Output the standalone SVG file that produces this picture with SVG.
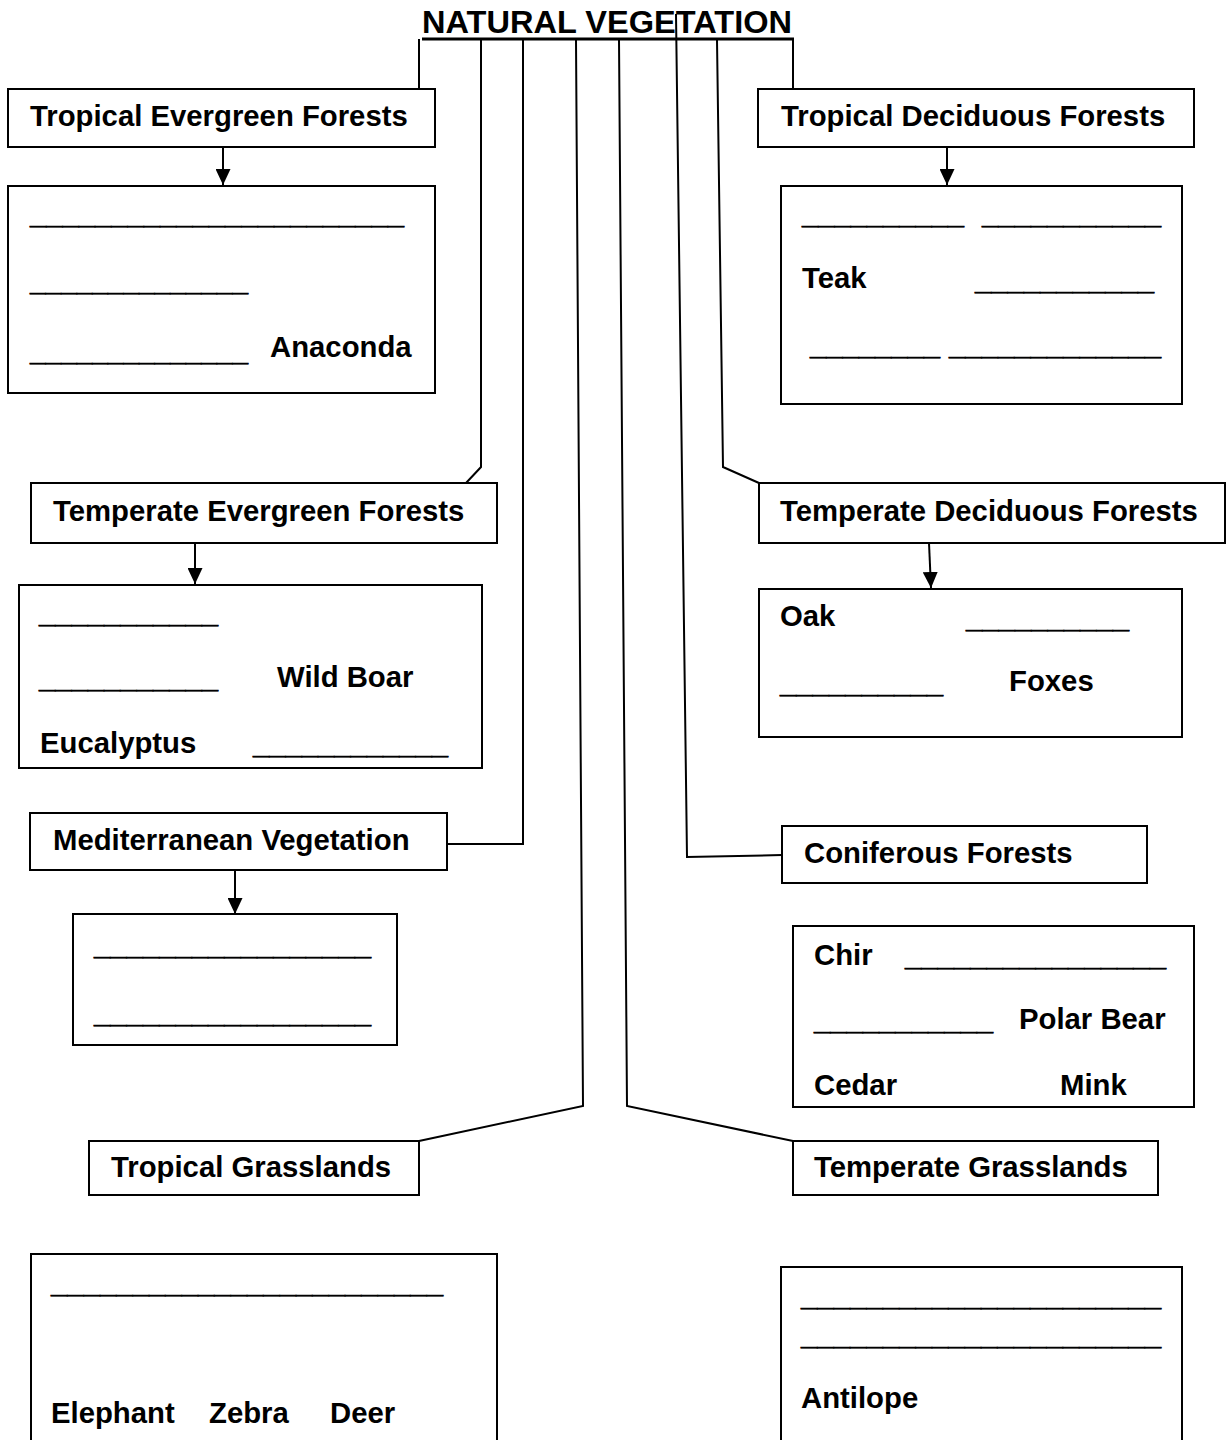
<svg xmlns="http://www.w3.org/2000/svg" width="1226" height="1440" viewBox="0 0 1226 1440">
<style>
  text { font-family: "Liberation Sans", Arial, sans-serif; font-weight: bold; font-size: 29.3px; fill: #000; }
  .title { font-size: 32px; }
  .blank { stroke: #000; stroke-width: 0.7; }
  .box { fill: #fff; stroke: #000; stroke-width: 2; }
  .conn { fill: none; stroke: #000; stroke-width: 2; }
  .arrow { fill: none; stroke: #000; stroke-width: 2; marker-end: url(#ah); }
</style>
<defs>
  <marker id="ah" markerUnits="userSpaceOnUse" markerWidth="16" markerHeight="15" refX="16" refY="7.5" orient="auto" viewBox="0 0 16 15">
    <path d="M0,0 L16,7.5 L0,15 z" fill="#000"/>
  </marker>
</defs>
<rect width="1226" height="1440" fill="#fff"/>

<g id="connectors">
  <path class="conn" d="M419,39 L419,89"/>
  <path class="conn" d="M481,40 L481,467 L466,483"/>
  <path class="conn" d="M523,40 L523,844 L447,844"/>
  <path class="conn" d="M576,40 L583,1106 L419,1141"/>
  <path class="conn" d="M619,40 L627,1106 L793,1141"/>
  <path class="conn" d="M676,14 L687,857 L782,855"/>
  <path class="conn" d="M717,40 L723,467 L759,483"/>
  <path class="conn" d="M793,39 L793,89"/>
  <path class="arrow" d="M223,147 L223,185"/>
  <path class="arrow" d="M947,147 L947,185"/>
  <path class="arrow" d="M195,543 L195,584"/>
  <path class="arrow" d="M929,543 L931,588"/>
  <path class="arrow" d="M235,871 L235,914"/>
</g>

<g id="title">
  <text class="title" x="422" y="33" textLength="370" lengthAdjust="spacingAndGlyphs">NATURAL VEGETATION</text>
  <line x1="422" y1="39" x2="794" y2="39" stroke="#000" stroke-width="3"/>
</g>

<g id="tropical-evergreen">
  <rect class="box" x="8" y="89" width="427" height="58"/>
  <text x="30" y="126">Tropical Evergreen Forests</text>
</g>
<g id="tropical-evergreen-content">
  <rect class="box" x="8" y="186" width="427" height="207"/>
  <text class="blank" x="30" y="224" textLength="374" lengthAdjust="spacingAndGlyphs">_______________________</text>
  <text class="blank" x="30" y="291" textLength="218" lengthAdjust="spacingAndGlyphs">______________</text>
  <text class="blank" x="30" y="361" textLength="218" lengthAdjust="spacingAndGlyphs">______________</text>
  <text x="270" y="357">Anaconda</text>
</g>

<g id="tropical-deciduous">
  <rect class="box" x="758" y="89" width="436" height="58"/>
  <text x="781" y="126">Tropical Deciduous Forests</text>
</g>
<g id="tropical-deciduous-content">
  <rect class="box" x="781" y="186" width="401" height="218"/>
  <text class="blank" x="802" y="224" textLength="162" lengthAdjust="spacingAndGlyphs">__________</text>
  <text class="blank" x="982" y="224" textLength="179" lengthAdjust="spacingAndGlyphs">___________</text>
  <text x="802" y="288">Teak</text>
  <text class="blank" x="975" y="290" textLength="179" lengthAdjust="spacingAndGlyphs">___________</text>
  <text class="blank" x="810" y="355" textLength="130" lengthAdjust="spacingAndGlyphs">________</text>
  <text class="blank" x="949" y="355" textLength="212" lengthAdjust="spacingAndGlyphs">_____________</text>
</g>

<g id="temperate-evergreen">
  <rect class="box" x="31" y="483" width="466" height="60"/>
  <text x="53" y="521">Temperate Evergreen Forests</text>
</g>
<g id="temperate-evergreen-content">
  <rect class="box" x="19" y="585" width="463" height="183"/>
  <text class="blank" x="39" y="623" textLength="179" lengthAdjust="spacingAndGlyphs">___________</text>
  <text class="blank" x="39" y="688" textLength="179" lengthAdjust="spacingAndGlyphs">___________</text>
  <text x="277" y="687">Wild Boar</text>
  <text x="40" y="753">Eucalyptus</text>
  <text class="blank" x="253" y="754" textLength="195" lengthAdjust="spacingAndGlyphs">____________</text>
</g>

<g id="temperate-deciduous">
  <rect class="box" x="759" y="483" width="466" height="60"/>
  <text x="780" y="521">Temperate Deciduous Forests</text>
</g>
<g id="temperate-deciduous-content">
  <rect class="box" x="759" y="589" width="423" height="148"/>
  <text x="780" y="626">Oak</text>
  <text class="blank" x="966" y="628" textLength="163" lengthAdjust="spacingAndGlyphs">__________</text>
  <text class="blank" x="780" y="693" textLength="163" lengthAdjust="spacingAndGlyphs">__________</text>
  <text x="1009" y="691">Foxes</text>
</g>

<g id="mediterranean">
  <rect class="box" x="30" y="813" width="417" height="57"/>
  <text x="53" y="850">Mediterranean Vegetation</text>
</g>
<g id="mediterranean-content">
  <rect class="box" x="73" y="914" width="324" height="131"/>
  <text class="blank" x="94" y="955" textLength="277" lengthAdjust="spacingAndGlyphs">_________________</text>
  <text class="blank" x="94" y="1023" textLength="277" lengthAdjust="spacingAndGlyphs">_________________</text>
</g>

<g id="coniferous">
  <rect class="box" x="782" y="826" width="365" height="57"/>
  <text x="804" y="863">Coniferous Forests</text>
</g>
<g id="coniferous-content">
  <rect class="box" x="793" y="926" width="401" height="181"/>
  <text x="814" y="965">Chir</text>
  <text class="blank" x="905" y="966" textLength="261" lengthAdjust="spacingAndGlyphs">________________</text>
  <text class="blank" x="814" y="1030" textLength="179" lengthAdjust="spacingAndGlyphs">___________</text>
  <text x="1019" y="1029">Polar Bear</text>
  <text x="814" y="1095">Cedar</text>
  <text x="1060" y="1095">Mink</text>
</g>

<g id="tropical-grasslands">
  <rect class="box" x="89" y="1141" width="330" height="54"/>
  <text x="111" y="1177">Tropical Grasslands</text>
</g>
<g id="tropical-grasslands-content">
  <rect class="box" x="31" y="1254" width="466" height="200"/>
  <text class="blank" x="51" y="1293" textLength="392" lengthAdjust="spacingAndGlyphs">________________________</text>
  <text x="51" y="1423">Elephant</text>
  <text x="209" y="1423">Zebra</text>
  <text x="330" y="1423">Deer</text>
</g>

<g id="temperate-grasslands">
  <rect class="box" x="793" y="1141" width="365" height="54"/>
  <text x="814" y="1177">Temperate Grasslands</text>
</g>
<g id="temperate-grasslands-content">
  <rect class="box" x="781" y="1267" width="401" height="200"/>
  <text class="blank" x="801" y="1306" textLength="360" lengthAdjust="spacingAndGlyphs">______________________</text>
  <text class="blank" x="801" y="1345" textLength="360" lengthAdjust="spacingAndGlyphs">______________________</text>
  <text x="801" y="1408">Antilope</text>
</g>
</svg>
